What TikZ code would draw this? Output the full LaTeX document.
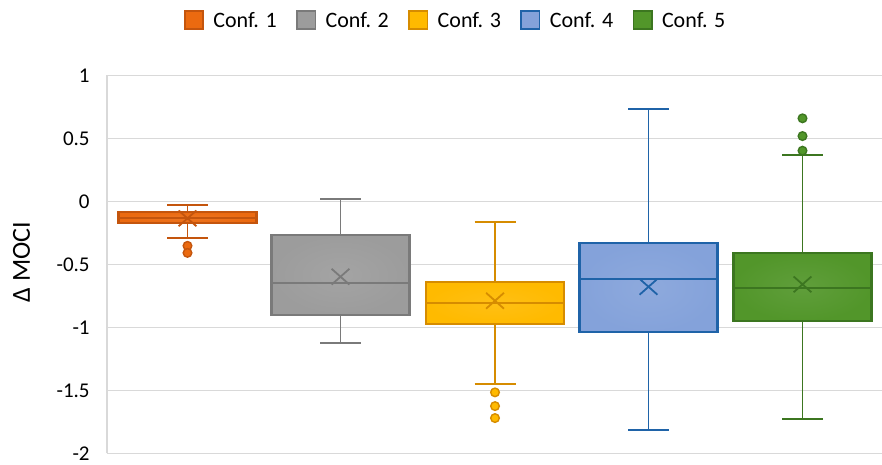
\documentclass[tikz,border=0pt]{standalone}
\usepackage{fontspec}
\setmainfont{Carlito}
\usetikzlibrary{positioning,shapes.misc}

\definecolor{gridgray}{HTML}{D9D9D9}
\definecolor{fill1}{HTML}{EB6A10}
\definecolor{edge1}{HTML}{C4550D}
\definecolor{fill2}{HTML}{9C9C9C}
\definecolor{edge2}{HTML}{7A7A7A}
\definecolor{fill3}{HTML}{FFBA00}
\definecolor{edge3}{HTML}{D68C00}
\definecolor{fill4}{HTML}{84A2DA}
\definecolor{edge4}{HTML}{1F63A8}
\definecolor{fill5}{HTML}{52962A}
\definecolor{edge5}{HTML}{3C7620}

\tikzset{
	gridline/.style={draw=gridgray, line width=0.8pt},
	boxbody/.style={draw, line width=1.1pt, minimum width=69pt, inner sep=0pt, outer sep=0pt},
	whisker/.style={line width=0.95pt},
	meanmark/.style={cross out, draw, line width=0.9pt, minimum width=8pt, minimum height=7pt, inner sep=0pt},
	outlier/.style={circle, draw, line width=0.7pt, minimum size=4.3pt, inner sep=0pt},
	legsq/.style={draw, line width=0.8pt, minimum size=9.2pt, inner sep=0pt},
	legtext/.style={inner sep=0pt, font=\fontsize{11}{13}\selectfont},
	ticklabel/.style={anchor=east, inner sep=0pt, font=\fontsize{10.5}{12}\selectfont}
}

\begin{document}
\begin{tikzpicture}[x=0.5pt, y=63pt]
	\useasboundingbox (0,-2.092) rectangle (882,1.598);
	
	% grid and axis
	\foreach \v/\lab [count=\k] in {1/1, 0.5/0.5, 0/0, -0.5/-0.5, -1/-1, -1.5/-1.5, -2/-2} {
		\draw[gridline] (107,\v) -- (882,\v);
		\node[ticklabel] (tick\k) at (90,\v) {\lab};
	}
	\draw[gridline] (107,-2) -- (107,1);
	\node[rotate=90, font=\fontsize{13}{15}\selectfont] (ylabel) at (21.5,-0.482) {Δ MOCI};
	
	% boxes: n / centre / low / Q1 / median / Q3 / high / mean
	\foreach \n/\cx/\lo/\qa/\med/\qb/\hi/\mn in {
		1/187.5/-0.289/-0.175/-0.130/-0.087/-0.029/-0.135,
		2/340.5/-1.122/-0.900/-0.646/-0.265/0.018/-0.598,
		3/495/-1.450/-0.976/-0.807/-0.640/-0.162/-0.789,
		4/648.5/-1.813/-1.040/-0.619/-0.333/0.730/-0.678,
		5/802.5/-1.728/-0.948/-0.686/-0.410/0.365/-0.659} {
		\pgfmathsetmacro\bh{(\qb-\qa)*63}
		\coordinate (hi\n) at (\cx,\hi);
		\coordinate (lo\n) at (\cx,\lo);
		\coordinate (med\n) at (\cx,\med);
		\node[boxbody, draw=edge\n, shade, inner color=fill\n!92!white, outer color=fill\n,
		minimum height=\bh pt] (box\n) at (\cx,{(\qa+\qb)/2}) {};
		% whiskers
		\draw[whisker, draw=edge\n] (box\n.north) -- (hi\n);
		\draw[whisker, draw=edge\n] (box\n.south) -- (lo\n);
		\draw[whisker, draw=edge\n] (hi\n) ++(-20.5,0) -- ++(41,0);
		\draw[whisker, draw=edge\n] (lo\n) ++(-20.5,0) -- ++(41,0);
		% median and mean
		\draw[whisker, draw=edge\n] (box\n.west |- med\n) -- (box\n.east |- med\n);
		\node[meanmark, draw=edge\n] (mean\n) at (\cx,\mn) {};
	}
	
	% outliers
	\foreach \v [count=\k] in {-0.353, -0.409}
		\node[outlier, draw=edge1, fill=fill1] (outa\k) at (187.5,\v) {};
	\foreach \v [count=\k] in {-1.516, -1.625, -1.720}
		\node[outlier, draw=edge3, fill=fill3] (outc\k) at (495,\v) {};
	\foreach \v [count=\k] in {0.402, 0.518, 0.659}
		\node[outlier, draw=edge5, fill=fill5] (oute\k) at (802.5,\v) {};
	
	% legend
	\node[legsq, draw=edge1, fill=fill1] (leg1) at (194,1.439) {};
	\node[legtext, right=4.5pt of leg1] (legtext1) {Conf. 1};
	\node[legsq, draw=edge2, fill=fill2, right=9.5pt of legtext1] (leg2) {};
	\node[legtext, right=4.5pt of leg2] (legtext2) {Conf. 2};
	\node[legsq, draw=edge3, fill=fill3, right=9.5pt of legtext2] (leg3) {};
	\node[legtext, right=4.5pt of leg3] (legtext3) {Conf. 3};
	\node[legsq, draw=edge4, fill=fill4, right=9.5pt of legtext3] (leg4) {};
	\node[legtext, right=4.5pt of leg4] (legtext4) {Conf. 4};
	\node[legsq, draw=edge5, fill=fill5, right=9.5pt of legtext4] (leg5) {};
	\node[legtext, right=4.5pt of leg5] (legtext5) {Conf. 5};
\end{tikzpicture}
\end{document}
